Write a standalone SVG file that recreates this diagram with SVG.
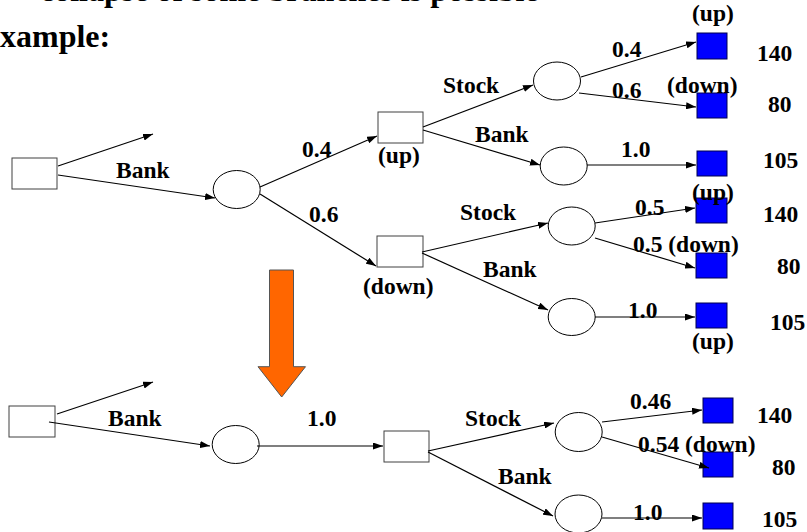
<svg xmlns="http://www.w3.org/2000/svg" width="807" height="532" viewBox="0 0 807 532">
<defs>
<marker id="ah" markerWidth="10" markerHeight="7" refX="10" refY="3.5" orient="auto" markerUnits="userSpaceOnUse">
<path d="M0,0 L10,3.5 L0,7 z" fill="#000"/>
</marker>
<style>
.t{font-family:"Liberation Serif","Times New Roman",serif;font-weight:bold;font-size:23.5px;fill:#000}
.h{font-family:"Liberation Serif","Times New Roman",serif;font-weight:bold;font-size:32px;fill:#000}
.dn{fill:#fff;stroke:#404040;stroke-width:1}
.ch{fill:#fff;stroke:#000;stroke-width:1}
.lf{fill:#0000ff;stroke:#000050;stroke-width:1}
.c{stroke:#000;stroke-width:1.2;fill:none;marker-end:url(#ah)}
</style>
</defs>
<rect width="807" height="532" fill="#fff"/>
<text class="h" x="40" y="1">collapse of some branches is possible</text>
<text class="h" x="0" y="47">xample:</text>

<g id="orange-arrow">
<polygon points="269.5,270 293.5,270 293.5,366.7 305.5,366.7 281.7,397 258,366.7 269.5,366.7" fill="#ff6600" stroke="#555" stroke-width="1"/>
</g>

<g id="decision1"><rect class="dn" x="12" y="158" width="45" height="31"/></g>
<g id="chance1"><ellipse class="ch" cx="236.7" cy="189.5" rx="23.5" ry="19"/></g>
<g id="decision-up"><rect class="dn" x="378" y="112" width="45" height="31"/></g>
<g id="decision-down"><rect class="dn" x="377" y="236" width="46" height="31"/></g>
<g id="chance-up-stock"><ellipse class="ch" cx="557" cy="81" rx="23.5" ry="19"/></g>
<g id="chance-up-bank"><ellipse class="ch" cx="563.7" cy="166" rx="23.5" ry="19"/></g>
<g id="chance-down-stock"><ellipse class="ch" cx="571.7" cy="226" rx="23.5" ry="19"/></g>
<g id="chance-down-bank"><ellipse class="ch" cx="571.7" cy="317" rx="23.5" ry="18.5"/></g>
<g id="leaf1"><rect class="lf" x="697" y="33" width="30" height="26"/></g>
<g id="leaf2"><rect class="lf" x="697" y="93" width="30" height="25"/></g>
<g id="leaf3"><rect class="lf" x="697" y="151" width="30" height="25"/></g>
<g id="leaf4"><rect class="lf" x="696" y="198" width="31" height="25"/></g>
<g id="leaf5"><rect class="lf" x="696" y="253" width="31" height="25"/></g>
<g id="leaf6"><rect class="lf" x="696" y="303" width="31" height="25"/></g>

<g id="decision-b1"><rect class="dn" x="9" y="406" width="46" height="31"/></g>
<g id="chance-b1"><ellipse class="ch" cx="235.7" cy="444.5" rx="23.5" ry="19"/></g>
<g id="decision-b2"><rect class="dn" x="384" y="431" width="45" height="31"/></g>
<g id="chance-b-stock"><ellipse class="ch" cx="578.7" cy="432" rx="23.5" ry="19.5"/></g>
<g id="chance-b-bank"><ellipse class="ch" cx="578.5" cy="514" rx="23.5" ry="19"/></g>
<g id="leaf7"><rect class="lf" x="703" y="398" width="30" height="25"/></g>
<g id="leaf8"><rect class="lf" x="703" y="452" width="30" height="25"/></g>
<g id="leaf9"><rect class="lf" x="703" y="503" width="30" height="26"/></g>

<g id="connectors">
<line class="c" x1="58" y1="166" x2="153" y2="134"/>
<line class="c" x1="58" y1="175" x2="215" y2="198"/>
<line class="c" x1="260" y1="187" x2="377" y2="136"/>
<line class="c" x1="260" y1="194" x2="376" y2="266"/>
<line class="c" x1="423" y1="127" x2="533" y2="85"/>
<line class="c" x1="423" y1="130" x2="540" y2="165"/>
<line class="c" x1="581" y1="77" x2="696" y2="42"/>
<line class="c" x1="579" y1="93" x2="696" y2="107"/>
<line class="c" x1="587" y1="165" x2="696" y2="165"/>
<line class="c" x1="422" y1="252" x2="548" y2="223"/>
<line class="c" x1="422" y1="253" x2="548" y2="310"/>
<line class="c" x1="595" y1="223" x2="695" y2="208"/>
<line class="c" x1="595" y1="238" x2="695" y2="268"/>
<line class="c" x1="595" y1="317" x2="695" y2="317"/>
<line class="c" x1="57" y1="414" x2="153" y2="382"/>
<line class="c" x1="49" y1="422" x2="210" y2="446"/>
<line class="c" x1="257" y1="446" x2="383" y2="446"/>
<line class="c" x1="428" y1="451" x2="554" y2="423"/>
<line class="c" x1="428" y1="452" x2="553" y2="516"/>
<line class="c" x1="602" y1="422" x2="702" y2="410"/>
<line class="c" x1="602" y1="437" x2="709" y2="468"/>
<line class="c" x1="602" y1="518" x2="702" y2="518"/>
</g>

<g id="labels">
<text class="t" x="116" y="178">Bank</text>
<text class="t" x="302" y="157">0.4</text>
<text class="t" x="378" y="163">(up)</text>
<text class="t" x="309" y="222">0.6</text>
<text class="t" x="363" y="294">(down)</text>
<text class="t" x="443" y="93">Stock</text>
<text class="t" x="475" y="142">Bank</text>
<text class="t" x="612" y="57">0.4</text>
<text class="t" x="692" y="21">(up)</text>
<text class="t" x="757" y="61">140</text>
<text class="t" x="612" y="98">0.6</text>
<text class="t" x="667" y="93">(down)</text>
<text class="t" x="768" y="112">80</text>
<text class="t" x="621" y="157">1.0</text>
<text class="t" x="763" y="168">105</text>
<text class="t" x="692" y="200">(up)</text>
<text class="t" x="460" y="220">Stock</text>
<text class="t" x="635" y="215">0.5</text>
<text class="t" x="763" y="222">140</text>
<text class="t" x="483" y="277">Bank</text>
<text class="t" x="633" y="252">0.5 (down)</text>
<text class="t" x="777" y="274">80</text>
<text class="t" x="628" y="318">1.0</text>
<text class="t" x="770" y="330">105</text>
<text class="t" x="692" y="349">(up)</text>
<text class="t" x="108" y="426">Bank</text>
<text class="t" x="307" y="426">1.0</text>
<text class="t" x="465" y="426">Stock</text>
<text class="t" x="498" y="484">Bank</text>
<text class="t" x="630" y="409">0.46</text>
<text class="t" x="757" y="423">140</text>
<text class="t" x="638" y="452">0.54 (down)</text>
<text class="t" x="772" y="475">80</text>
<text class="t" x="633" y="520">1.0</text>
<text class="t" x="762" y="527">105</text>
</g>
</svg>
